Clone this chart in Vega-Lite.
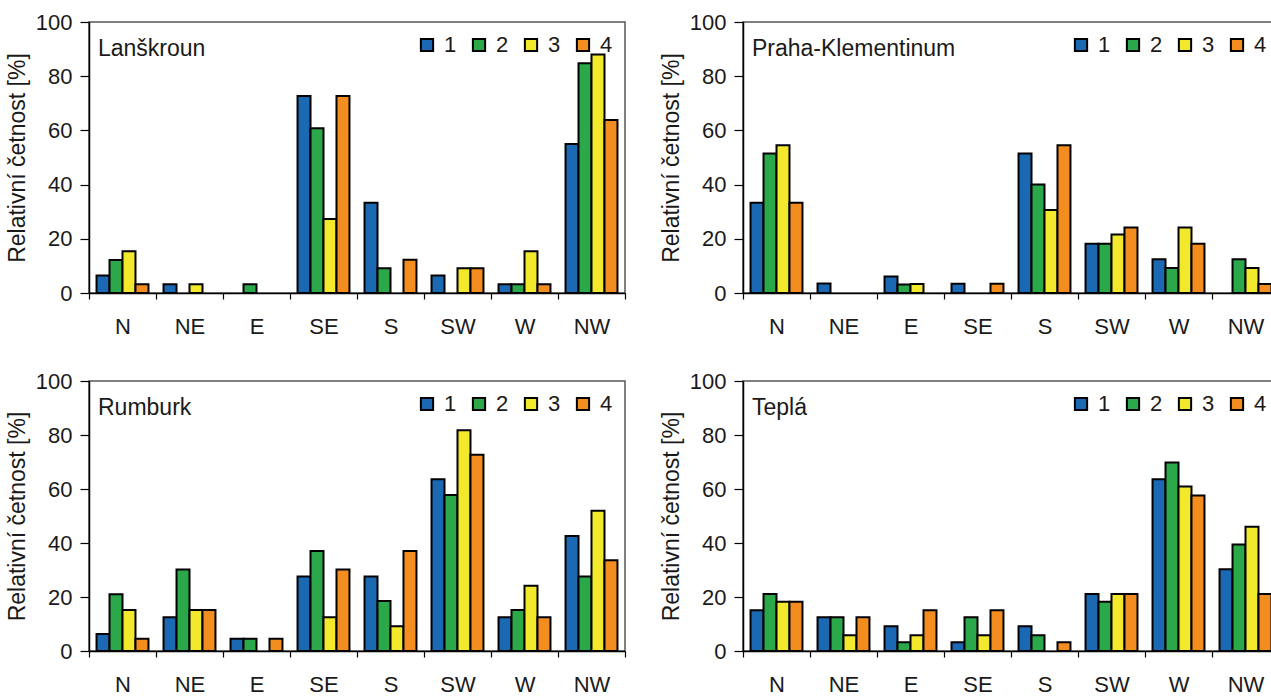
{
  "$schema": "https://vega.github.io/schema/vega-lite/v6.json",
  "background": "white",
  "padding": {"left": 5, "top": 10, "right": 0, "bottom": 0},
  "config": {
    "font": "Liberation Sans",
    "view": {"stroke": "#555", "strokeWidth": 1.5},
    "axis": {
      "labelFont": "Liberation Sans", "labelFontSize": 22, "labelColor": "#1a1a1a",
      "domainColor": "#000", "domainWidth": 1.5, "tickColor": "#000", "tickWidth": 1.2,
      "grid": false,
      "titleFont": "Liberation Sans", "titleFontSize": 23, "titleFontWeight": "normal", "titleColor": "#1a1a1a"
    },
    "legend": {
      "orient": "top-right", "direction": "horizontal", "title": null,
      "symbolType": "square", "symbolSize": 150, "symbolStrokeColor": "#000", "symbolStrokeWidth": 2,
      "labelFont": "Liberation Sans", "labelFontSize": 22, "labelColor": "#1a1a1a",
      "labelOffset": 6, "columnPadding": 11, "offset": 12, "padding": 0
    },
    "title": {"font": "Liberation Sans", "fontSize": 23, "fontWeight": "normal", "color": "#1a1a1a", "anchor": "start", "frame": "group", "offset": -50, "dx": 9}
  },
  "datasets": {
    "wind": [
      {"station": "Lanškroun", "dir": "N", "series": "1", "value": 6.5},
      {"station": "Lanškroun", "dir": "N", "series": "2", "value": 12.2},
      {"station": "Lanškroun", "dir": "N", "series": "3", "value": 15.4},
      {"station": "Lanškroun", "dir": "N", "series": "4", "value": 3.2},
      {"station": "Lanškroun", "dir": "NE", "series": "1", "value": 3.2},
      {"station": "Lanškroun", "dir": "NE", "series": "3", "value": 3.2},
      {"station": "Lanškroun", "dir": "E", "series": "2", "value": 3.2},
      {"station": "Lanškroun", "dir": "SE", "series": "1", "value": 72.7},
      {"station": "Lanškroun", "dir": "SE", "series": "2", "value": 60.8},
      {"station": "Lanškroun", "dir": "SE", "series": "3", "value": 27.3},
      {"station": "Lanškroun", "dir": "SE", "series": "4", "value": 72.7},
      {"station": "Lanškroun", "dir": "S", "series": "1", "value": 33.3},
      {"station": "Lanškroun", "dir": "S", "series": "2", "value": 9.1},
      {"station": "Lanškroun", "dir": "S", "series": "4", "value": 12.3},
      {"station": "Lanškroun", "dir": "SW", "series": "1", "value": 6.5},
      {"station": "Lanškroun", "dir": "SW", "series": "3", "value": 9.1},
      {"station": "Lanškroun", "dir": "SW", "series": "4", "value": 9.1},
      {"station": "Lanškroun", "dir": "W", "series": "1", "value": 3.2},
      {"station": "Lanškroun", "dir": "W", "series": "2", "value": 3.2},
      {"station": "Lanškroun", "dir": "W", "series": "3", "value": 15.4},
      {"station": "Lanškroun", "dir": "W", "series": "4", "value": 3.2},
      {"station": "Lanškroun", "dir": "NW", "series": "1", "value": 55.0},
      {"station": "Lanškroun", "dir": "NW", "series": "2", "value": 84.8},
      {"station": "Lanškroun", "dir": "NW", "series": "3", "value": 88.0},
      {"station": "Lanškroun", "dir": "NW", "series": "4", "value": 63.8},

      {"station": "Praha-Klementinum", "dir": "N", "series": "1", "value": 33.3},
      {"station": "Praha-Klementinum", "dir": "N", "series": "2", "value": 51.5},
      {"station": "Praha-Klementinum", "dir": "N", "series": "3", "value": 54.5},
      {"station": "Praha-Klementinum", "dir": "N", "series": "4", "value": 33.3},
      {"station": "Praha-Klementinum", "dir": "NE", "series": "1", "value": 3.5},
      {"station": "Praha-Klementinum", "dir": "E", "series": "1", "value": 6.1},
      {"station": "Praha-Klementinum", "dir": "E", "series": "2", "value": 3.1},
      {"station": "Praha-Klementinum", "dir": "E", "series": "3", "value": 3.3},
      {"station": "Praha-Klementinum", "dir": "SE", "series": "1", "value": 3.4},
      {"station": "Praha-Klementinum", "dir": "SE", "series": "4", "value": 3.4},
      {"station": "Praha-Klementinum", "dir": "S", "series": "1", "value": 51.5},
      {"station": "Praha-Klementinum", "dir": "S", "series": "2", "value": 40.0},
      {"station": "Praha-Klementinum", "dir": "S", "series": "3", "value": 30.6},
      {"station": "Praha-Klementinum", "dir": "S", "series": "4", "value": 54.5},
      {"station": "Praha-Klementinum", "dir": "SW", "series": "1", "value": 18.2},
      {"station": "Praha-Klementinum", "dir": "SW", "series": "2", "value": 18.2},
      {"station": "Praha-Klementinum", "dir": "SW", "series": "3", "value": 21.6},
      {"station": "Praha-Klementinum", "dir": "SW", "series": "4", "value": 24.2},
      {"station": "Praha-Klementinum", "dir": "W", "series": "1", "value": 12.5},
      {"station": "Praha-Klementinum", "dir": "W", "series": "2", "value": 9.2},
      {"station": "Praha-Klementinum", "dir": "W", "series": "3", "value": 24.2},
      {"station": "Praha-Klementinum", "dir": "W", "series": "4", "value": 18.2},
      {"station": "Praha-Klementinum", "dir": "NW", "series": "2", "value": 12.5},
      {"station": "Praha-Klementinum", "dir": "NW", "series": "3", "value": 9.2},
      {"station": "Praha-Klementinum", "dir": "NW", "series": "4", "value": 3.3},

      {"station": "Rumburk", "dir": "N", "series": "1", "value": 6.3},
      {"station": "Rumburk", "dir": "N", "series": "2", "value": 21.0},
      {"station": "Rumburk", "dir": "N", "series": "3", "value": 15.2},
      {"station": "Rumburk", "dir": "N", "series": "4", "value": 4.5},
      {"station": "Rumburk", "dir": "NE", "series": "1", "value": 12.5},
      {"station": "Rumburk", "dir": "NE", "series": "2", "value": 30.2},
      {"station": "Rumburk", "dir": "NE", "series": "3", "value": 15.2},
      {"station": "Rumburk", "dir": "NE", "series": "4", "value": 15.2},
      {"station": "Rumburk", "dir": "E", "series": "1", "value": 4.5},
      {"station": "Rumburk", "dir": "E", "series": "2", "value": 4.5},
      {"station": "Rumburk", "dir": "E", "series": "4", "value": 4.5},
      {"station": "Rumburk", "dir": "SE", "series": "1", "value": 27.6},
      {"station": "Rumburk", "dir": "SE", "series": "2", "value": 37.0},
      {"station": "Rumburk", "dir": "SE", "series": "3", "value": 12.5},
      {"station": "Rumburk", "dir": "SE", "series": "4", "value": 30.2},
      {"station": "Rumburk", "dir": "S", "series": "1", "value": 27.6},
      {"station": "Rumburk", "dir": "S", "series": "2", "value": 18.5},
      {"station": "Rumburk", "dir": "S", "series": "3", "value": 9.2},
      {"station": "Rumburk", "dir": "S", "series": "4", "value": 37.0},
      {"station": "Rumburk", "dir": "SW", "series": "1", "value": 63.6},
      {"station": "Rumburk", "dir": "SW", "series": "2", "value": 57.8},
      {"station": "Rumburk", "dir": "SW", "series": "3", "value": 81.8},
      {"station": "Rumburk", "dir": "SW", "series": "4", "value": 72.7},
      {"station": "Rumburk", "dir": "W", "series": "1", "value": 12.5},
      {"station": "Rumburk", "dir": "W", "series": "2", "value": 15.2},
      {"station": "Rumburk", "dir": "W", "series": "3", "value": 24.2},
      {"station": "Rumburk", "dir": "W", "series": "4", "value": 12.5},
      {"station": "Rumburk", "dir": "NW", "series": "1", "value": 42.6},
      {"station": "Rumburk", "dir": "NW", "series": "2", "value": 27.6},
      {"station": "Rumburk", "dir": "NW", "series": "3", "value": 51.9},
      {"station": "Rumburk", "dir": "NW", "series": "4", "value": 33.6},

      {"station": "Teplá", "dir": "N", "series": "1", "value": 15.1},
      {"station": "Teplá", "dir": "N", "series": "2", "value": 21.1},
      {"station": "Teplá", "dir": "N", "series": "3", "value": 18.2},
      {"station": "Teplá", "dir": "N", "series": "4", "value": 18.2},
      {"station": "Teplá", "dir": "NE", "series": "1", "value": 12.5},
      {"station": "Teplá", "dir": "NE", "series": "2", "value": 12.5},
      {"station": "Teplá", "dir": "NE", "series": "3", "value": 5.8},
      {"station": "Teplá", "dir": "NE", "series": "4", "value": 12.5},
      {"station": "Teplá", "dir": "E", "series": "1", "value": 9.2},
      {"station": "Teplá", "dir": "E", "series": "2", "value": 3.2},
      {"station": "Teplá", "dir": "E", "series": "3", "value": 5.8},
      {"station": "Teplá", "dir": "E", "series": "4", "value": 15.1},
      {"station": "Teplá", "dir": "SE", "series": "1", "value": 3.2},
      {"station": "Teplá", "dir": "SE", "series": "2", "value": 12.5},
      {"station": "Teplá", "dir": "SE", "series": "3", "value": 5.8},
      {"station": "Teplá", "dir": "SE", "series": "4", "value": 15.1},
      {"station": "Teplá", "dir": "S", "series": "1", "value": 9.2},
      {"station": "Teplá", "dir": "S", "series": "2", "value": 5.8},
      {"station": "Teplá", "dir": "S", "series": "4", "value": 3.2},
      {"station": "Teplá", "dir": "SW", "series": "1", "value": 21.1},
      {"station": "Teplá", "dir": "SW", "series": "2", "value": 18.2},
      {"station": "Teplá", "dir": "SW", "series": "3", "value": 21.1},
      {"station": "Teplá", "dir": "SW", "series": "4", "value": 21.1},
      {"station": "Teplá", "dir": "W", "series": "1", "value": 63.6},
      {"station": "Teplá", "dir": "W", "series": "2", "value": 69.8},
      {"station": "Teplá", "dir": "W", "series": "3", "value": 60.9},
      {"station": "Teplá", "dir": "W", "series": "4", "value": 57.6},
      {"station": "Teplá", "dir": "NW", "series": "1", "value": 30.3},
      {"station": "Teplá", "dir": "NW", "series": "2", "value": 39.4},
      {"station": "Teplá", "dir": "NW", "series": "3", "value": 46.0},
      {"station": "Teplá", "dir": "NW", "series": "4", "value": 21.1}
    ]
  },
  "spacing": 31,
  "resolve": {"scale": {"color": "independent"}, "legend": {"color": "independent"}},
  "vconcat": [
    {
      "spacing": 32,
      "resolve": {"scale": {"color": "independent"}, "legend": {"color": "independent"}},
      "hconcat": [
        {
          "width": 536, "height": 271,
          "title": {"text": "Lanškroun"},
          "data": {"name": "wind"},
          "transform": [{"filter": "datum.station === 'Lanškroun'"}],
          "mark": {"type": "bar", "stroke": "#000", "strokeWidth": 2},
          "encoding": {
            "x": {"field": "dir", "type": "nominal", "sort": ["N", "NE", "E", "SE", "S", "SW", "W", "NW"], "scale": {"paddingInner": 0, "paddingOuter": 0}, "axis": {"title": null, "labelAngle": 0, "tickBand": "extent", "tickSize": 6, "labelPadding": 17}},
            "xOffset": {"field": "series", "type": "nominal", "scale": {"domain": ["1", "2", "3", "4"], "paddingInner": 0, "paddingOuter": 0.58}},
            "y": {"field": "value", "type": "quantitative", "scale": {"domain": [0, 100], "nice": false}, "axis": {"title": "Relativní četnost [%]", "values": [0, 20, 40, 60, 80, 100], "tickSize": 9, "labelPadding": 8, "titlePadding": 6}},
            "color": {"field": "series", "type": "nominal", "scale": {"domain": ["1", "2", "3", "4"], "range": ["#1c69b3", "#2aa84a", "#f2e92c", "#f48d20"]}, "legend": {"symbolStrokeColor": "#000", "symbolStrokeWidth": 2}}
          }
        },
        {
          "width": 536, "height": 271,
          "title": {"text": "Praha-Klementinum"},
          "data": {"name": "wind"},
          "transform": [{"filter": "datum.station === 'Praha-Klementinum'"}],
          "mark": {"type": "bar", "stroke": "#000", "strokeWidth": 2},
          "encoding": {
            "x": {"field": "dir", "type": "nominal", "sort": ["N", "NE", "E", "SE", "S", "SW", "W", "NW"], "scale": {"paddingInner": 0, "paddingOuter": 0}, "axis": {"title": null, "labelAngle": 0, "tickBand": "extent", "tickSize": 6, "labelPadding": 17}},
            "xOffset": {"field": "series", "type": "nominal", "scale": {"domain": ["1", "2", "3", "4"], "paddingInner": 0, "paddingOuter": 0.58}},
            "y": {"field": "value", "type": "quantitative", "scale": {"domain": [0, 100], "nice": false}, "axis": {"title": "Relativní četnost [%]", "values": [0, 20, 40, 60, 80, 100], "tickSize": 9, "labelPadding": 8, "titlePadding": 6}},
            "color": {"field": "series", "type": "nominal", "scale": {"domain": ["1", "2", "3", "4"], "range": ["#1c69b3", "#2aa84a", "#f2e92c", "#f48d20"]}, "legend": {"symbolStrokeColor": "#000", "symbolStrokeWidth": 2}}
          }
        }
      ]
    },
    {
      "spacing": 32,
      "resolve": {"scale": {"color": "independent"}, "legend": {"color": "independent"}},
      "hconcat": [
        {
          "width": 536, "height": 270,
          "title": {"text": "Rumburk"},
          "data": {"name": "wind"},
          "transform": [{"filter": "datum.station === 'Rumburk'"}],
          "mark": {"type": "bar", "stroke": "#000", "strokeWidth": 2},
          "encoding": {
            "x": {"field": "dir", "type": "nominal", "sort": ["N", "NE", "E", "SE", "S", "SW", "W", "NW"], "scale": {"paddingInner": 0, "paddingOuter": 0}, "axis": {"title": null, "labelAngle": 0, "tickBand": "extent", "tickSize": 6, "labelPadding": 17}},
            "xOffset": {"field": "series", "type": "nominal", "scale": {"domain": ["1", "2", "3", "4"], "paddingInner": 0, "paddingOuter": 0.58}},
            "y": {"field": "value", "type": "quantitative", "scale": {"domain": [0, 100], "nice": false}, "axis": {"title": "Relativní četnost [%]", "values": [0, 20, 40, 60, 80, 100], "tickSize": 9, "labelPadding": 8, "titlePadding": 6}},
            "color": {"field": "series", "type": "nominal", "scale": {"domain": ["1", "2", "3", "4"], "range": ["#1c69b3", "#2aa84a", "#f2e92c", "#f48d20"]}, "legend": {"symbolStrokeColor": "#000", "symbolStrokeWidth": 2}}
          }
        },
        {
          "width": 536, "height": 270,
          "title": {"text": "Teplá"},
          "data": {"name": "wind"},
          "transform": [{"filter": "datum.station === 'Teplá'"}],
          "mark": {"type": "bar", "stroke": "#000", "strokeWidth": 2},
          "encoding": {
            "x": {"field": "dir", "type": "nominal", "sort": ["N", "NE", "E", "SE", "S", "SW", "W", "NW"], "scale": {"paddingInner": 0, "paddingOuter": 0}, "axis": {"title": null, "labelAngle": 0, "tickBand": "extent", "tickSize": 6, "labelPadding": 17}},
            "xOffset": {"field": "series", "type": "nominal", "scale": {"domain": ["1", "2", "3", "4"], "paddingInner": 0, "paddingOuter": 0.58}},
            "y": {"field": "value", "type": "quantitative", "scale": {"domain": [0, 100], "nice": false}, "axis": {"title": "Relativní četnost [%]", "values": [0, 20, 40, 60, 80, 100], "tickSize": 9, "labelPadding": 8, "titlePadding": 6}},
            "color": {"field": "series", "type": "nominal", "scale": {"domain": ["1", "2", "3", "4"], "range": ["#1c69b3", "#2aa84a", "#f2e92c", "#f48d20"]}, "legend": {"symbolStrokeColor": "#000", "symbolStrokeWidth": 2}}
          }
        }
      ]
    }
  ]
}
